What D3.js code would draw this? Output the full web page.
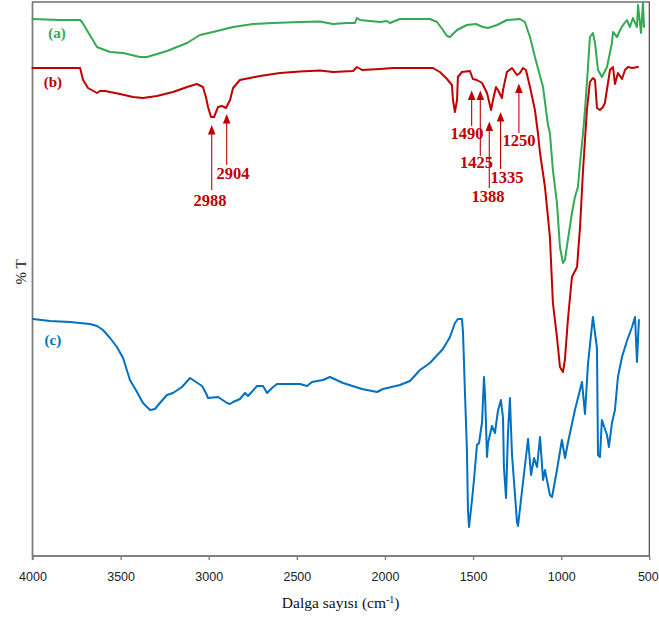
<!DOCTYPE html>
<html><head><meta charset="utf-8">
<script src="https://cdn.jsdelivr.net/npm/d3@7"></script>
<style>body{margin:0;background:#fff}</style>
</head><body>
<svg id="chart" width="659" height="624"></svg>
<script>
// ---- data (wavenumber cm-1, %T) ----
const xTicks = [4000, 3500, 3000, 2500, 2000, 1500, 1000, 500];

const specA = [[4000,107.4],[3844,107.2],[3730,107.2],[3719,106.8],[3685,104.8],[3634,101.8],[3560,100.8],[3486,100.6],[3390,99.8],[3350,99.8],[3237,101],[3123,102.6],[3050,104.2],[2976,104.8],[2862,105.8],[2749,106.4],[2635,106.6],[2482,106.8],[2369,106.9],[2295,106.4],[2216,106.6],[2170,106.6],[2159,107.6],[2142,107.2],[2028,106.8],[1989,107],[1972,106.6],[1915,107.4],[1745,107.4],[1705,106.8],[1671,105.2],[1648,104],[1631,103.8],[1591,105.2],[1535,106.2],[1484,106.4],[1444,105.8],[1415,105.6],[1364,106.2],[1308,107.2],[1234,107.4],[1206,106.8],[1177,103.8],[1149,99.8],[1103,93.8],[1075,86.2],[1064,84.6],[1047,77.2],[1024,70.6],[1007,61.8],[990,58.6],[979,59.2],[962,63.2],[939,68.6],[922,71.8],[905,73.8],[893,78.6],[876,84.6],[865,89.2],[854,94.6],[837,103.8],[820,104.6],[808,102.6],[791,97.2],[769,95.8],[740,97.8],[712,102.6],[706,104.8],[683,103.8],[666,105.2],[649,106.2],[627,107.2],[610,105.8],[593,107.6],[570,105.8],[564,110.2],[547,104.6],[536,110.6],[530,105.8]];

const specB = [[4000,97.6],[3730,97.6],[3713,95.2],[3685,93.6],[3634,92.6],[3617,93],[3589,93],[3503,92.4],[3430,91.8],[3373,91.6],[3294,92],[3203,92.8],[3123,93.8],[3067,94.4],[3033,93.8],[3016,91.8],[3004,89.8],[2987,87.8],[2970,87.8],[2947,89.8],[2925,90],[2902,89.6],[2879,91.2],[2862,93.6],[2823,95.2],[2709,96],[2596,96.6],[2482,96.9],[2369,97.1],[2295,96.8],[2181,97],[2159,97.8],[2130,97.2],[2028,97.4],[1954,97.6],[1728,97.6],[1688,96.8],[1648,95.4],[1620,94.2],[1614,91.2],[1603,88.8],[1591,91.2],[1586,95.8],[1563,96.8],[1518,97],[1501,95.4],[1478,95.2],[1449,94.6],[1421,92.6],[1398,89.2],[1387,91.2],[1370,93.8],[1359,93.2],[1336,91.6],[1330,93.2],[1308,96.8],[1279,97.6],[1251,96.2],[1234,96.6],[1217,97.6],[1200,97.2],[1177,93.8],[1149,89.2],[1132,84.6],[1120,80.6],[1092,73.8],[1064,63.8],[1047,50.6],[1024,43.8],[1007,37.8],[990,36.8],[979,39.2],[962,47.2],[939,55.8],[910,57.8],[893,65.8],[876,77.2],[865,83.2],[854,89.2],[837,94.8],[820,95.6],[808,95.2],[797,89.6],[780,89.2],[763,89.8],[752,90.6],[723,97.2],[706,97.8],[695,94.4],[678,96.6],[655,95.4],[638,97.2],[621,97.8],[598,97.6],[564,97.8]];

const specC = [[3997,47.4],[3901,47],[3787,46.8],[3674,46.4],[3634,46],[3600,45.2],[3560,43.6],[3521,41.8],[3486,39.6],[3447,35.2],[3407,32.8],[3373,30.6],[3333,29.2],[3305,29.4],[3277,30.6],[3237,32.2],[3203,32.6],[3152,33.8],[3106,35.6],[3089,35.2],[3038,34],[3016,32.6],[3004,31.6],[2947,31.8],[2896,30.6],[2879,30.4],[2862,30.8],[2823,31.4],[2794,32.6],[2777,32],[2726,34],[2692,34],[2669,32.6],[2641,33.6],[2613,34.4],[2482,34.4],[2442,34],[2414,34.8],[2352,35.2],[2312,35.8],[2238,34.6],[2130,33.4],[2045,32.8],[2011,33.4],[1915,34.2],[1858,35],[1801,37.2],[1745,38.6],[1671,41.4],[1631,43.8],[1603,46.6],[1586,47.4],[1563,47.4],[1557,44.6],[1546,32.6],[1535,21.2],[1529,9.2],[1523,5.8],[1506,11.2],[1495,15.2],[1478,22.2],[1466,22.6],[1449,26.8],[1438,35.8],[1432,32.2],[1421,19.8],[1415,22.6],[1393,26],[1376,24.6],[1359,29],[1342,31.2],[1330,27.6],[1325,17.8],[1313,11.6],[1302,24.6],[1291,31.6],[1279,20.2],[1262,12.2],[1251,6.8],[1245,6],[1223,12.8],[1188,23.4],[1171,16.2],[1154,19.6],[1137,17.8],[1120,23.8],[1103,15.2],[1092,17.2],[1064,12.2],[1052,11.8],[1024,17.2],[996,23.2],[978,19.6],[961,22.8],[922,29.2],[882,34.8],[865,28.4],[848,38.4],[820,47.8],[797,41.6],[791,20.2],[780,19.8],[769,27.2],[740,24.2],[729,21.8],[712,26.6],[695,29.2],[678,35.8],[655,39.8],[627,43],[598,45.8],[581,47.8],[570,38.8],[559,47.2]];

const seriesNames = ["(a)", "(b)", "(c)"];
const seriesLabelAt = [[3861,103.6],[3884,93.8],[3884,42.2]];

const peakLabels = ["2988","2904","1490","1425","1388","1335","1250"];
const peakArrowWn = [2983, 2898, 1508, 1459, 1408, 1344, 1240];
const peakTipT    = [86.2, 88.4, 93.1, 93.1, 86.9, 88.8, 94.5];
const peakTailT   = [73.2, 78.2, 86.0, 80.0, 73.6, 77.4, 84.6];
const peakTextWn  = [2993, 2862, 1535, 1481, 1415, 1308, 1240];
const peakTextT   = [70.0, 75.4, 83.4, 77.6, 70.8, 74.6, 82.0];

// ---- drawing ----
const svg = d3.select("#chart");
const x = d3.scaleLinear().domain([4000, 500]).range([32.5, 649.3]);
const y = d3.scaleLinear().domain([0, 110.8]).range([556, 2]);

const colors = ["#34A853", "#C00000", "#0070C0"];

// frame
svg.append("rect").attr("x", x(4000)).attr("y", y(110.8))
  .attr("width", x(500) - x(4000)).attr("height", y(0) - y(110.8))
  .attr("fill", "none").attr("stroke", "#4a4a4a").attr("stroke-width", 1.2);

// x axis
const xAxis = d3.axisBottom(x).tickValues(xTicks).tickFormat(d3.format("d"))
  .tickSize(4).tickSizeOuter(0).tickPadding(12);
const gx = svg.append("g").attr("transform", `translate(0,${y(0)})`).call(xAxis);
gx.select(".domain").remove();
gx.selectAll(".tick line").attr("stroke", "#7a7a7a").attr("stroke-width", 1.3);
gx.selectAll(".tick text").attr("font-family", "Liberation Sans, Arial, sans-serif")
  .attr("font-size", 12.5).attr("fill", "#222")
  .attr("dx", d => d === 500 ? -1.5 : 0);
// left & bottom axis lines
svg.append("line").attr("x1", x(4000)).attr("x2", x(500)).attr("y1", y(0)).attr("y2", y(0))
  .attr("stroke", "#7a7a7a").attr("stroke-width", 1.5);
svg.append("line").attr("x1", x(4000)).attr("x2", x(4000)).attr("y1", y(110.8)).attr("y2", y(0) + 4)
  .attr("stroke", "#7a7a7a").attr("stroke-width", 1.5);

// curves
const line = d3.line().x(d => x(d[0])).y(d => y(d[1]));
[specA, specB, specC].forEach((s, i) => {
  svg.append("path").datum(s).attr("d", line).attr("fill", "none")
    .attr("stroke", colors[i]).attr("stroke-width", 2)
    .attr("stroke-linejoin", "round").attr("stroke-linecap", "round");
});

// series labels
seriesNames.forEach((n, i) => {
  svg.append("text").attr("x", x(seriesLabelAt[i][0])).attr("y", y(seriesLabelAt[i][1]))
    .attr("text-anchor", "middle").attr("font-family", "Liberation Serif, Times New Roman, serif")
    .attr("font-weight", "bold").attr("font-size", 15).attr("fill", colors[i]).text(n);
});

// peak arrows
const red = "#C00000";
peakLabels.forEach((lab, i) => {
  const px = x(peakArrowWn[i]);
  const ty = y(peakTipT[i]);
  const by = y(peakTailT[i]);
  svg.append("line").attr("x1", px).attr("x2", px).attr("y1", ty + 8).attr("y2", by)
    .attr("stroke", red).attr("stroke-width", 1.1);
  svg.append("path").attr("d", `M${px},${ty} L${px - 3.8},${ty + 9.5} L${px + 3.8},${ty + 9.5} Z`)
    .attr("fill", red);
  svg.append("text").attr("x", x(peakTextWn[i])).attr("y", y(peakTextT[i]))
    .attr("text-anchor", "middle").attr("font-family", "Liberation Serif, Times New Roman, serif")
    .attr("font-weight", "bold").attr("font-size", 16.5).attr("fill", red).text(lab);
});

// axis titles
const xt = svg.append("text").attr("x", 340.7).attr("y", 608).attr("text-anchor", "middle")
  .attr("font-family", "Liberation Serif, Times New Roman, serif").attr("font-size", 15.5).attr("fill", "#111");
xt.append("tspan").text("Dalga sayısı (cm");
xt.append("tspan").attr("dy", -5).attr("font-size", 10).text("-1");
xt.append("tspan").attr("dy", 5).text(")");

svg.append("text").attr("transform", "translate(26,272) rotate(-90)").attr("text-anchor", "middle")
  .attr("font-family", "Liberation Serif, Times New Roman, serif").attr("font-size", 15).attr("fill", "#222")
  .text("% T");
</script>
</body></html>
